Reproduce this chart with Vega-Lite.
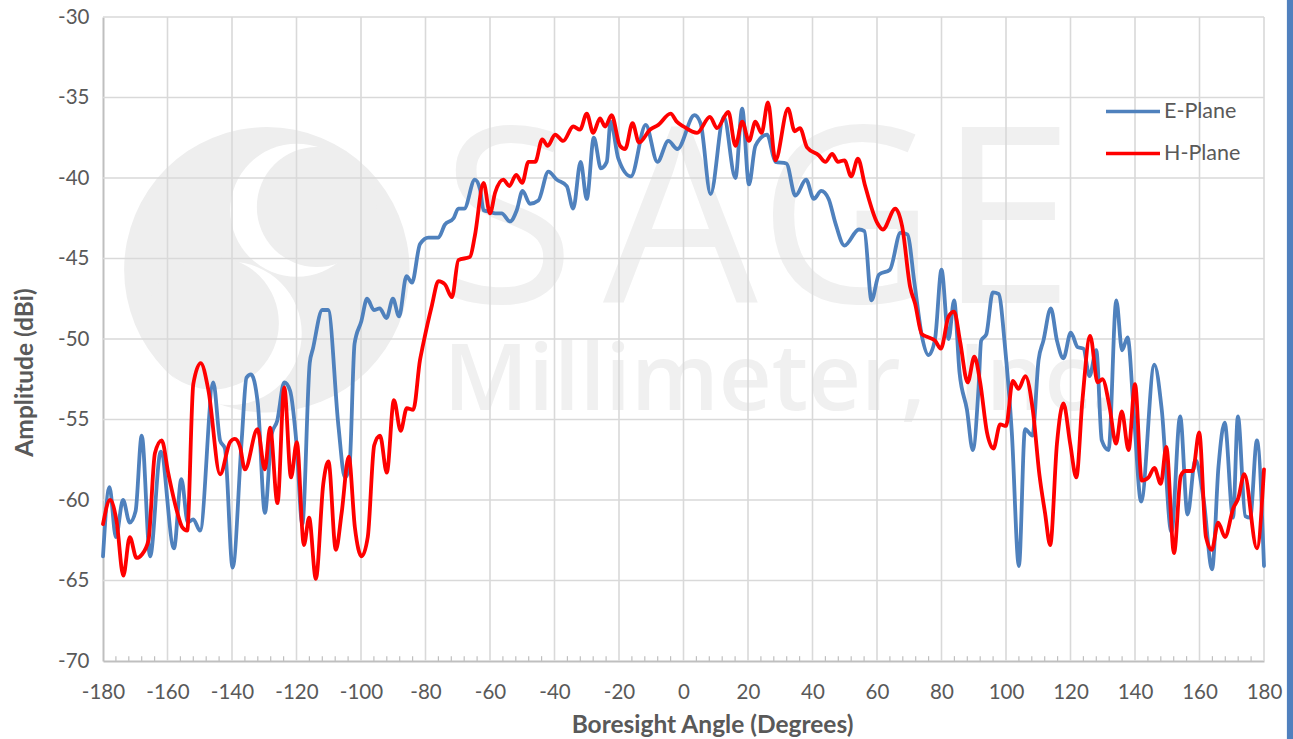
{"$schema":"https://vega.github.io/schema/vega-lite/v6.json","width":1161,"height":644,"autosize":{"type":"none"},"padding":{"left":103,"top":17,"right":29,"bottom":78},"background":"white","view":{"stroke":null},"resolve":{"axis":{"x":"independent","y":"independent"}},"datasets":{"vgrid":[{"v":-160},{"v":-140},{"v":-120},{"v":-100},{"v":-80},{"v":-60},{"v":-40},{"v":-20},{"v":0},{"v":20},{"v":40},{"v":60},{"v":80},{"v":100},{"v":120},{"v":140},{"v":160},{"v":180}],"hgrid":[{"v":-30},{"v":-35},{"v":-40},{"v":-45},{"v":-50},{"v":-55},{"v":-60},{"v":-65}],"minor":[{"v":-176,"a":-70,"b":-69.7},{"v":-172,"a":-70,"b":-69.7},{"v":-168,"a":-70,"b":-69.7},{"v":-164,"a":-70,"b":-69.7},{"v":-156,"a":-70,"b":-69.7},{"v":-152,"a":-70,"b":-69.7},{"v":-148,"a":-70,"b":-69.7},{"v":-144,"a":-70,"b":-69.7},{"v":-136,"a":-70,"b":-69.7},{"v":-132,"a":-70,"b":-69.7},{"v":-128,"a":-70,"b":-69.7},{"v":-124,"a":-70,"b":-69.7},{"v":-116,"a":-70,"b":-69.7},{"v":-112,"a":-70,"b":-69.7},{"v":-108,"a":-70,"b":-69.7},{"v":-104,"a":-70,"b":-69.7},{"v":-96,"a":-70,"b":-69.7},{"v":-92,"a":-70,"b":-69.7},{"v":-88,"a":-70,"b":-69.7},{"v":-84,"a":-70,"b":-69.7},{"v":-76,"a":-70,"b":-69.7},{"v":-72,"a":-70,"b":-69.7},{"v":-68,"a":-70,"b":-69.7},{"v":-64,"a":-70,"b":-69.7},{"v":-56,"a":-70,"b":-69.7},{"v":-52,"a":-70,"b":-69.7},{"v":-48,"a":-70,"b":-69.7},{"v":-44,"a":-70,"b":-69.7},{"v":-36,"a":-70,"b":-69.7},{"v":-32,"a":-70,"b":-69.7},{"v":-28,"a":-70,"b":-69.7},{"v":-24,"a":-70,"b":-69.7},{"v":-16,"a":-70,"b":-69.7},{"v":-12,"a":-70,"b":-69.7},{"v":-8,"a":-70,"b":-69.7},{"v":-4,"a":-70,"b":-69.7},{"v":4,"a":-70,"b":-69.7},{"v":8,"a":-70,"b":-69.7},{"v":12,"a":-70,"b":-69.7},{"v":16,"a":-70,"b":-69.7},{"v":24,"a":-70,"b":-69.7},{"v":28,"a":-70,"b":-69.7},{"v":32,"a":-70,"b":-69.7},{"v":36,"a":-70,"b":-69.7},{"v":44,"a":-70,"b":-69.7},{"v":48,"a":-70,"b":-69.7},{"v":52,"a":-70,"b":-69.7},{"v":56,"a":-70,"b":-69.7},{"v":64,"a":-70,"b":-69.7},{"v":68,"a":-70,"b":-69.7},{"v":72,"a":-70,"b":-69.7},{"v":76,"a":-70,"b":-69.7},{"v":84,"a":-70,"b":-69.7},{"v":88,"a":-70,"b":-69.7},{"v":92,"a":-70,"b":-69.7},{"v":96,"a":-70,"b":-69.7},{"v":104,"a":-70,"b":-69.7},{"v":108,"a":-70,"b":-69.7},{"v":112,"a":-70,"b":-69.7},{"v":116,"a":-70,"b":-69.7},{"v":124,"a":-70,"b":-69.7},{"v":128,"a":-70,"b":-69.7},{"v":132,"a":-70,"b":-69.7},{"v":136,"a":-70,"b":-69.7},{"v":144,"a":-70,"b":-69.7},{"v":148,"a":-70,"b":-69.7},{"v":152,"a":-70,"b":-69.7},{"v":156,"a":-70,"b":-69.7},{"v":164,"a":-70,"b":-69.7},{"v":168,"a":-70,"b":-69.7},{"v":172,"a":-70,"b":-69.7},{"v":176,"a":-70,"b":-69.7}]},"layer":[
{"data":{"values":[{"x":-129.2,"y":-45.7}]},"mark":{"type":"point","filled":true,"size":81450,"color":"#EEEEEE","opacity":1,"shape":"circle"},"encoding":{"x":{"field":"x","type":"quantitative","scale":{"domain":[-180,180],"nice":false,"zero":false},"axis":null},"y":{"field":"y","type":"quantitative","scale":{"domain":[-70,-30],"nice":false,"zero":false},"axis":null}}},
{"data":{"values":[{"x":-119.9,"y":-42}]},"mark":{"type":"point","filled":true,"size":17700,"color":"#FFFFFF","opacity":1,"shape":"circle"},"encoding":{"x":{"field":"x","type":"quantitative","axis":null},"y":{"field":"y","type":"quantitative","axis":null}}},
{"data":{"values":[{"x":-113.7,"y":-41.8}]},"mark":{"type":"point","filled":true,"size":14400,"color":"#EEEEEE","opacity":1,"shape":"circle"},"encoding":{"x":{"field":"x","type":"quantitative","axis":null},"y":{"field":"y","type":"quantitative","axis":null}}},
{"data":{"values":[{"x":-140.6,"y":-49.65}]},"mark":{"type":"point","filled":true,"size":20550,"color":"#FFFFFF","opacity":1,"shape":"circle"},"encoding":{"x":{"field":"x","type":"quantitative","axis":null},"y":{"field":"y","type":"quantitative","axis":null}}},
{"data":{"values":[{"x":-146.1,"y":-49}]},"mark":{"type":"point","filled":true,"size":17700,"color":"#EEEEEE","opacity":1,"shape":"circle"},"encoding":{"x":{"field":"x","type":"quantitative","axis":null},"y":{"field":"y","type":"quantitative","axis":null}}},
{"data":{"values":[{"x":-75.2,"y":-47.76,"t":"S"},{"x":-24.96,"y":-47.76,"t":"A"},{"x":23.1,"y":-47.76,"t":"G"},{"x":78.9,"y":-47.76,"t":"E"}]},"mark":{"type":"text","font":"Open Sans","fontSize":245,"align":"left","baseline":"alphabetic","color":"#F0F0F0"},"encoding":{"x":{"field":"x","type":"quantitative","axis":null},"y":{"field":"y","type":"quantitative","axis":null},"text":{"field":"t"}}},
{"data":{"values":[{"x":-74.4,"y":-54.4,"t":"Millimeter,"},{"x":85.1,"y":-54.4,"t":"Inc."}]},"mark":{"type":"text","font":"Open Sans","fontSize":92,"fontWeight":600,"align":"left","baseline":"alphabetic","color":"#F0F0F0"},"encoding":{"x":{"field":"x","type":"quantitative","axis":null},"y":{"field":"y","type":"quantitative","axis":null},"text":{"field":"t"}}},
{"data":{"name":"vgrid"},"mark":{"type":"rule","color":"#D9D9D9","strokeWidth":1.6},"encoding":{"x":{"field":"v","type":"quantitative","axis":null}}},
{"data":{"name":"hgrid"},"mark":{"type":"rule","color":"#D9D9D9","strokeWidth":1.6},"encoding":{"y":{"field":"v","type":"quantitative","axis":null}}},
{"data":{"name":"minor"},"mark":{"type":"rule","color":"#BFBFBF","strokeWidth":1.2},"encoding":{"x":{"field":"v","type":"quantitative","axis":null},"y":{"field":"a","type":"quantitative","axis":null},"y2":{"field":"b"}}},
{"data":{"values":[{"x":187.1,"x2":189.2,"y":-28.9,"y2":-74.9}]},"mark":{"type":"rect","color":"#5080BE"},"encoding":{"x":{"field":"x","type":"quantitative","axis":null},"x2":{"field":"x2"},"y":{"field":"y","type":"quantitative","axis":null},"y2":{"field":"y2"}}},
{"data":{"values":[
{"p":"E-Plane","a":-180,"d":-63.5},{"p":"E-Plane","a":-178,"d":-59.2},{"p":"E-Plane","a":-176,"d":-62.3},{"p":"E-Plane","a":-173.8,"d":-60},{"p":"E-Plane","a":-171.7,"d":-61.4},{"p":"E-Plane","a":-169.9,"d":-60.7},{"p":"E-Plane","a":-168,"d":-56},{"p":"E-Plane","a":-165.4,"d":-63.5},{"p":"E-Plane","a":-162.1,"d":-57},{"p":"E-Plane","a":-158,"d":-63},{"p":"E-Plane","a":-155.7,"d":-58.7},{"p":"E-Plane","a":-153.7,"d":-61.4},{"p":"E-Plane","a":-152,"d":-61.2},{"p":"E-Plane","a":-149.9,"d":-61.9},{"p":"E-Plane","a":-145.8,"d":-52.7},{"p":"E-Plane","a":-143.7,"d":-56.3},{"p":"E-Plane","a":-142.2,"d":-56.8},{"p":"E-Plane","a":-139.8,"d":-64.2},{"p":"E-Plane","a":-137,"d":-56.3},{"p":"E-Plane","a":-135.5,"d":-52.4},{"p":"E-Plane","a":-134.1,"d":-52.2},{"p":"E-Plane","a":-132,"d":-54},{"p":"E-Plane","a":-129.8,"d":-60.8},{"p":"E-Plane","a":-127.7,"d":-55.9},{"p":"E-Plane","a":-126,"d":-55.1},{"p":"E-Plane","a":-123.8,"d":-52.7},{"p":"E-Plane","a":-122,"d":-53.2},{"p":"E-Plane","a":-120,"d":-56.5},{"p":"E-Plane","a":-118.2,"d":-61.5},{"p":"E-Plane","a":-115.9,"d":-51.5},{"p":"E-Plane","a":-114.9,"d":-50.6},{"p":"E-Plane","a":-112,"d":-48.2},{"p":"E-Plane","a":-110.2,"d":-48.2},{"p":"E-Plane","a":-107,"d":-55.4},{"p":"E-Plane","a":-105,"d":-58.6},{"p":"E-Plane","a":-103.6,"d":-58},{"p":"E-Plane","a":-102,"d":-50.3},{"p":"E-Plane","a":-99.9,"d":-48.9},{"p":"E-Plane","a":-98.1,"d":-47.5},{"p":"E-Plane","a":-96,"d":-48.2},{"p":"E-Plane","a":-94.2,"d":-48.1},{"p":"E-Plane","a":-92.1,"d":-48.7},{"p":"E-Plane","a":-90.1,"d":-47.5},{"p":"E-Plane","a":-88.2,"d":-48.6},{"p":"E-Plane","a":-85.9,"d":-46.1},{"p":"E-Plane","a":-84.2,"d":-46.5},{"p":"E-Plane","a":-81.7,"d":-44.1},{"p":"E-Plane","a":-79.1,"d":-43.7},{"p":"E-Plane","a":-76,"d":-43.7},{"p":"E-Plane","a":-74,"d":-42.9},{"p":"E-Plane","a":-71.3,"d":-42.5},{"p":"E-Plane","a":-69.8,"d":-41.9},{"p":"E-Plane","a":-68,"d":-41.9},{"p":"E-Plane","a":-64.7,"d":-40.1},{"p":"E-Plane","a":-63.1,"d":-40.7},{"p":"E-Plane","a":-62,"d":-42},{"p":"E-Plane","a":-60,"d":-42.1},{"p":"E-Plane","a":-58.4,"d":-42.2},{"p":"E-Plane","a":-56.4,"d":-42.2},{"p":"E-Plane","a":-53.8,"d":-42.7},{"p":"E-Plane","a":-51.7,"d":-42},{"p":"E-Plane","a":-49.9,"d":-40.8},{"p":"E-Plane","a":-47.6,"d":-41.6},{"p":"E-Plane","a":-45,"d":-41.4},{"p":"E-Plane","a":-41.9,"d":-39.6},{"p":"E-Plane","a":-39.3,"d":-40.1},{"p":"E-Plane","a":-36.2,"d":-40.5},{"p":"E-Plane","a":-34.2,"d":-41.9},{"p":"E-Plane","a":-31.9,"d":-39},{"p":"E-Plane","a":-30,"d":-41.3},{"p":"E-Plane","a":-27.8,"d":-37.5},{"p":"E-Plane","a":-25.6,"d":-39.4},{"p":"E-Plane","a":-23.8,"d":-39},{"p":"E-Plane","a":-22.6,"d":-36.5},{"p":"E-Plane","a":-20.2,"d":-38.8},{"p":"E-Plane","a":-16.3,"d":-39.9},{"p":"E-Plane","a":-11.7,"d":-36.7},{"p":"E-Plane","a":-8.1,"d":-39},{"p":"E-Plane","a":-4.7,"d":-37.7},{"p":"E-Plane","a":-1.9,"d":-38.2},{"p":"E-Plane","a":3.4,"d":-36.1},{"p":"E-Plane","a":5.3,"d":-36.6},{"p":"E-Plane","a":8.4,"d":-41},{"p":"E-Plane","a":12.5,"d":-36.2},{"p":"E-Plane","a":16.1,"d":-40},{"p":"E-Plane","a":18.2,"d":-35.7},{"p":"E-Plane","a":20.3,"d":-40.4},{"p":"E-Plane","a":22.3,"d":-38},{"p":"E-Plane","a":25.9,"d":-37.3},{"p":"E-Plane","a":28.5,"d":-39},{"p":"E-Plane","a":31.9,"d":-39.1},{"p":"E-Plane","a":34.7,"d":-41.1},{"p":"E-Plane","a":38,"d":-40.1},{"p":"E-Plane","a":40.4,"d":-41.3},{"p":"E-Plane","a":42.7,"d":-40.8},{"p":"E-Plane","a":45,"d":-41.3},{"p":"E-Plane","a":47.1,"d":-42.8},{"p":"E-Plane","a":49.9,"d":-44.2},{"p":"E-Plane","a":54.4,"d":-43.2},{"p":"E-Plane","a":56.1,"d":-43.3},{"p":"E-Plane","a":58.3,"d":-47.6},{"p":"E-Plane","a":60.6,"d":-46},{"p":"E-Plane","a":64,"d":-45.7},{"p":"E-Plane","a":67.3,"d":-43.4},{"p":"E-Plane","a":69.4,"d":-43.5},{"p":"E-Plane","a":71.6,"d":-46.5},{"p":"E-Plane","a":73.9,"d":-49.8},{"p":"E-Plane","a":76,"d":-51},{"p":"E-Plane","a":78,"d":-50},{"p":"E-Plane","a":80,"d":-45.7},{"p":"E-Plane","a":82.2,"d":-50},{"p":"E-Plane","a":83.9,"d":-47.6},{"p":"E-Plane","a":85.6,"d":-52.1},{"p":"E-Plane","a":87.9,"d":-54.4},{"p":"E-Plane","a":89.7,"d":-56.9},{"p":"E-Plane","a":91.5,"d":-53},{"p":"E-Plane","a":92.3,"d":-50.1},{"p":"E-Plane","a":93.9,"d":-49.7},{"p":"E-Plane","a":95.9,"d":-47.1},{"p":"E-Plane","a":97.7,"d":-47.2},{"p":"E-Plane","a":99.7,"d":-50.5},{"p":"E-Plane","a":101.8,"d":-55.8},{"p":"E-Plane","a":104,"d":-64.1},{"p":"E-Plane","a":105.9,"d":-55.6},{"p":"E-Plane","a":108.2,"d":-56},{"p":"E-Plane","a":110.1,"d":-51.3},{"p":"E-Plane","a":111.6,"d":-50.1},{"p":"E-Plane","a":113.9,"d":-48.1},{"p":"E-Plane","a":115.8,"d":-50.1},{"p":"E-Plane","a":117.8,"d":-51.2},{"p":"E-Plane","a":120.1,"d":-49.6},{"p":"E-Plane","a":122.2,"d":-50.5},{"p":"E-Plane","a":124,"d":-50.6},{"p":"E-Plane","a":125.9,"d":-52.3},{"p":"E-Plane","a":128,"d":-50.7},{"p":"E-Plane","a":129.7,"d":-56.3},{"p":"E-Plane","a":131.8,"d":-56.9},{"p":"E-Plane","a":134.2,"d":-47.6},{"p":"E-Plane","a":136,"d":-50.7},{"p":"E-Plane","a":137.7,"d":-49.9},{"p":"E-Plane","a":139.7,"d":-54.8},{"p":"E-Plane","a":141.9,"d":-60.1},{"p":"E-Plane","a":146,"d":-51.6},{"p":"E-Plane","a":148.3,"d":-54.4},{"p":"E-Plane","a":151.3,"d":-62},{"p":"E-Plane","a":154,"d":-54.8},{"p":"E-Plane","a":156.3,"d":-60.9},{"p":"E-Plane","a":158.7,"d":-57.5},{"p":"E-Plane","a":161.3,"d":-60},{"p":"E-Plane","a":163.9,"d":-64.3},{"p":"E-Plane","a":165.9,"d":-57.9},{"p":"E-Plane","a":167.8,"d":-55.2},{"p":"E-Plane","a":170.4,"d":-61.1},{"p":"E-Plane","a":171.9,"d":-54.8},{"p":"E-Plane","a":174.2,"d":-61},{"p":"E-Plane","a":175.7,"d":-61.1},{"p":"E-Plane","a":177.8,"d":-56.3},{"p":"E-Plane","a":180,"d":-64.1},
{"p":"H-Plane","a":-180,"d":-61.5},{"p":"H-Plane","a":-177.8,"d":-60},{"p":"H-Plane","a":-175.8,"d":-61.3},{"p":"H-Plane","a":-173.7,"d":-64.7},{"p":"H-Plane","a":-171.7,"d":-62.3},{"p":"H-Plane","a":-169.6,"d":-63.6},{"p":"H-Plane","a":-168,"d":-63.4},{"p":"H-Plane","a":-165.9,"d":-62.5},{"p":"H-Plane","a":-163.9,"d":-57.1},{"p":"H-Plane","a":-161.8,"d":-56.3},{"p":"H-Plane","a":-159.7,"d":-58.4},{"p":"H-Plane","a":-157.2,"d":-60.6},{"p":"H-Plane","a":-155.4,"d":-61.7},{"p":"H-Plane","a":-153.9,"d":-61.9},{"p":"H-Plane","a":-152,"d":-52.8},{"p":"H-Plane","a":-149.7,"d":-51.5},{"p":"H-Plane","a":-147.3,"d":-53.2},{"p":"H-Plane","a":-143.7,"d":-58.4},{"p":"H-Plane","a":-140.6,"d":-56.4},{"p":"H-Plane","a":-139.1,"d":-56.2},{"p":"H-Plane","a":-137.5,"d":-56.7},{"p":"H-Plane","a":-136,"d":-58.1},{"p":"H-Plane","a":-132.1,"d":-55.6},{"p":"H-Plane","a":-129.8,"d":-58.1},{"p":"H-Plane","a":-128.2,"d":-55.5},{"p":"H-Plane","a":-125.9,"d":-60.2},{"p":"H-Plane","a":-123.8,"d":-53},{"p":"H-Plane","a":-121.7,"d":-58.6},{"p":"H-Plane","a":-119.9,"d":-56.4},{"p":"H-Plane","a":-117.7,"d":-62.8},{"p":"H-Plane","a":-116.1,"d":-61.1},{"p":"H-Plane","a":-114,"d":-64.9},{"p":"H-Plane","a":-111.7,"d":-59},{"p":"H-Plane","a":-110.1,"d":-57.6},{"p":"H-Plane","a":-107.8,"d":-63.1},{"p":"H-Plane","a":-106,"d":-60.8},{"p":"H-Plane","a":-103.8,"d":-57.3},{"p":"H-Plane","a":-101.9,"d":-61.7},{"p":"H-Plane","a":-99.8,"d":-63.5},{"p":"H-Plane","a":-97.9,"d":-62.3},{"p":"H-Plane","a":-95.9,"d":-56.6},{"p":"H-Plane","a":-94.1,"d":-56},{"p":"H-Plane","a":-92,"d":-58.3},{"p":"H-Plane","a":-89.8,"d":-53.8},{"p":"H-Plane","a":-87.7,"d":-55.7},{"p":"H-Plane","a":-85.8,"d":-54.3},{"p":"H-Plane","a":-83.8,"d":-54.4},{"p":"H-Plane","a":-81.7,"d":-51.3},{"p":"H-Plane","a":-80.8,"d":-50.4},{"p":"H-Plane","a":-78,"d":-47.9},{"p":"H-Plane","a":-76,"d":-46.4},{"p":"H-Plane","a":-74,"d":-46.6},{"p":"H-Plane","a":-71.8,"d":-47.4},{"p":"H-Plane","a":-69.8,"d":-45.1},{"p":"H-Plane","a":-66.2,"d":-44.9},{"p":"H-Plane","a":-64.7,"d":-43.6},{"p":"H-Plane","a":-62,"d":-40.3},{"p":"H-Plane","a":-60,"d":-42.2},{"p":"H-Plane","a":-58.4,"d":-40.9},{"p":"H-Plane","a":-55.9,"d":-40.1},{"p":"H-Plane","a":-54,"d":-40.5},{"p":"H-Plane","a":-51.9,"d":-39.8},{"p":"H-Plane","a":-50,"d":-40.3},{"p":"H-Plane","a":-48.1,"d":-39},{"p":"H-Plane","a":-46,"d":-39},{"p":"H-Plane","a":-43.8,"d":-37.6},{"p":"H-Plane","a":-42.1,"d":-38},{"p":"H-Plane","a":-39.8,"d":-37.3},{"p":"H-Plane","a":-37.3,"d":-37.7},{"p":"H-Plane","a":-34.2,"d":-36.8},{"p":"H-Plane","a":-32.1,"d":-37},{"p":"H-Plane","a":-30,"d":-36},{"p":"H-Plane","a":-28,"d":-37.2},{"p":"H-Plane","a":-25.9,"d":-36.3},{"p":"H-Plane","a":-24.3,"d":-36.8},{"p":"H-Plane","a":-22.3,"d":-36.1},{"p":"H-Plane","a":-19.7,"d":-38},{"p":"H-Plane","a":-18.1,"d":-38.2},{"p":"H-Plane","a":-15.8,"d":-36.6},{"p":"H-Plane","a":-13.8,"d":-37.8},{"p":"H-Plane","a":-10.4,"d":-37},{"p":"H-Plane","a":-7.8,"d":-36.7},{"p":"H-Plane","a":-4,"d":-36},{"p":"H-Plane","a":-2.1,"d":-36.5},{"p":"H-Plane","a":0,"d":-36.8},{"p":"H-Plane","a":4.2,"d":-37.2},{"p":"H-Plane","a":8.2,"d":-36.2},{"p":"H-Plane","a":10.4,"d":-36.9},{"p":"H-Plane","a":13.9,"d":-35.9},{"p":"H-Plane","a":16.1,"d":-38},{"p":"H-Plane","a":18.2,"d":-36.5},{"p":"H-Plane","a":20.3,"d":-37.7},{"p":"H-Plane","a":22.3,"d":-36.5},{"p":"H-Plane","a":24.2,"d":-37.2},{"p":"H-Plane","a":26.2,"d":-35.3},{"p":"H-Plane","a":28.5,"d":-38.9},{"p":"H-Plane","a":32.4,"d":-35.7},{"p":"H-Plane","a":34.5,"d":-37.1},{"p":"H-Plane","a":36.1,"d":-36.9},{"p":"H-Plane","a":38.3,"d":-38.1},{"p":"H-Plane","a":42,"d":-38.6},{"p":"H-Plane","a":44,"d":-39},{"p":"H-Plane","a":46.1,"d":-38.5},{"p":"H-Plane","a":47.9,"d":-39},{"p":"H-Plane","a":49.9,"d":-38.9},{"p":"H-Plane","a":52,"d":-39.9},{"p":"H-Plane","a":54.1,"d":-38.8},{"p":"H-Plane","a":56.2,"d":-40.4},{"p":"H-Plane","a":60.1,"d":-42.8},{"p":"H-Plane","a":61.8,"d":-43.2},{"p":"H-Plane","a":65.7,"d":-41.9},{"p":"H-Plane","a":67.8,"d":-43},{"p":"H-Plane","a":70.3,"d":-46.8},{"p":"H-Plane","a":71.8,"d":-47.8},{"p":"H-Plane","a":73.9,"d":-49.7},{"p":"H-Plane","a":76,"d":-49.9},{"p":"H-Plane","a":78,"d":-50.1},{"p":"H-Plane","a":79.8,"d":-50.6},{"p":"H-Plane","a":82.2,"d":-48.6},{"p":"H-Plane","a":83.9,"d":-48.3},{"p":"H-Plane","a":85.8,"d":-50.2},{"p":"H-Plane","a":88.1,"d":-52.7},{"p":"H-Plane","a":90.2,"d":-51.1},{"p":"H-Plane","a":92,"d":-52.7},{"p":"H-Plane","a":94.1,"d":-55.8},{"p":"H-Plane","a":96.1,"d":-56.8},{"p":"H-Plane","a":98.2,"d":-55.3},{"p":"H-Plane","a":100,"d":-55.4},{"p":"H-Plane","a":102.1,"d":-52.6},{"p":"H-Plane","a":103.9,"d":-53.1},{"p":"H-Plane","a":106,"d":-52.3},{"p":"H-Plane","a":108.3,"d":-54.4},{"p":"H-Plane","a":110.4,"d":-58.5},{"p":"H-Plane","a":112.1,"d":-60.8},{"p":"H-Plane","a":113.7,"d":-62.8},{"p":"H-Plane","a":115.8,"d":-56.5},{"p":"H-Plane","a":117.8,"d":-54},{"p":"H-Plane","a":119.9,"d":-56.5},{"p":"H-Plane","a":121.8,"d":-58.6},{"p":"H-Plane","a":123.7,"d":-53.8},{"p":"H-Plane","a":126.1,"d":-49.8},{"p":"H-Plane","a":128.4,"d":-52.7},{"p":"H-Plane","a":129.9,"d":-52.5},{"p":"H-Plane","a":132.1,"d":-54.2},{"p":"H-Plane","a":134.1,"d":-56.5},{"p":"H-Plane","a":135.9,"d":-54.5},{"p":"H-Plane","a":138,"d":-56.9},{"p":"H-Plane","a":140,"d":-52.8},{"p":"H-Plane","a":142.1,"d":-58.8},{"p":"H-Plane","a":144.2,"d":-58.6},{"p":"H-Plane","a":146,"d":-58},{"p":"H-Plane","a":148,"d":-59},{"p":"H-Plane","a":149.7,"d":-56.7},{"p":"H-Plane","a":152.1,"d":-63.3},{"p":"H-Plane","a":154.2,"d":-58.5},{"p":"H-Plane","a":155.6,"d":-58.2},{"p":"H-Plane","a":157.9,"d":-58.2},{"p":"H-Plane","a":159.9,"d":-55.8},{"p":"H-Plane","a":162,"d":-62.3},{"p":"H-Plane","a":163.8,"d":-63.1},{"p":"H-Plane","a":165.8,"d":-61.4},{"p":"H-Plane","a":167.9,"d":-62.3},{"p":"H-Plane","a":170.5,"d":-60.5},{"p":"H-Plane","a":172,"d":-59.9},{"p":"H-Plane","a":173.9,"d":-58.4},{"p":"H-Plane","a":177.8,"d":-63},{"p":"H-Plane","a":180,"d":-58.1}
]},"mark":{"type":"line","strokeWidth":3.8,"interpolate":"monotone","strokeCap":"round","clip":false},"encoding":{"x":{"field":"a","type":"quantitative","axis":{"title":"Boresight Angle (Degrees)","values":[-180,-160,-140,-120,-100,-80,-60,-40,-20,0,20,40,60,80,100,120,140,160,180],"labelExpr":"'' + datum.value","grid":false,"ticks":false,"domainColor":"#BFBFBF","domainWidth":2,"labelFont":"Lato","labelFontSize":20.5,"labelColor":"#595959","labelPadding":21,"labelFlush":false,"labelOverlap":false,"titleFont":"Lato","titleFontSize":24.5,"titleFontWeight":"bold","titleColor":"#595959","titleX":609,"titleY":64,"titleAnchor":"middle","titleAlign":"center","titleBaseline":"middle"}},"y":{"field":"d","type":"quantitative","axis":{"title":"Amplitude (dBi)","values":[-30,-35,-40,-45,-50,-55,-60,-65,-70],"labelExpr":"'' + datum.value","grid":false,"ticks":false,"domainColor":"#BFBFBF","domainWidth":2,"labelFont":"Lato","labelFontSize":20.5,"labelColor":"#595959","labelPadding":14,"labelOverlap":false,"labelFlush":false,"titleFont":"Lato","titleFontSize":24.5,"titleFontWeight":"bold","titleColor":"#595959","titleX":-78,"titleY":355,"titleBaseline":"middle","titleAngle":-90}},"color":{"field":"p","type":"nominal","scale":{"domain":["E-Plane","H-Plane"],"range":["#4F81BD","#FF0000"]},"legend":{"title":null,"orient":"none","legendX":1001,"legendY":84,"symbolType":"stroke","symbolSize":2916,"symbolStrokeWidth":3.4,"labelFont":"Lato","labelFontSize":21.5,"labelColor":"#595959","labelOffset":2,"rowPadding":20,"clipHeight":21}}}}
]}
